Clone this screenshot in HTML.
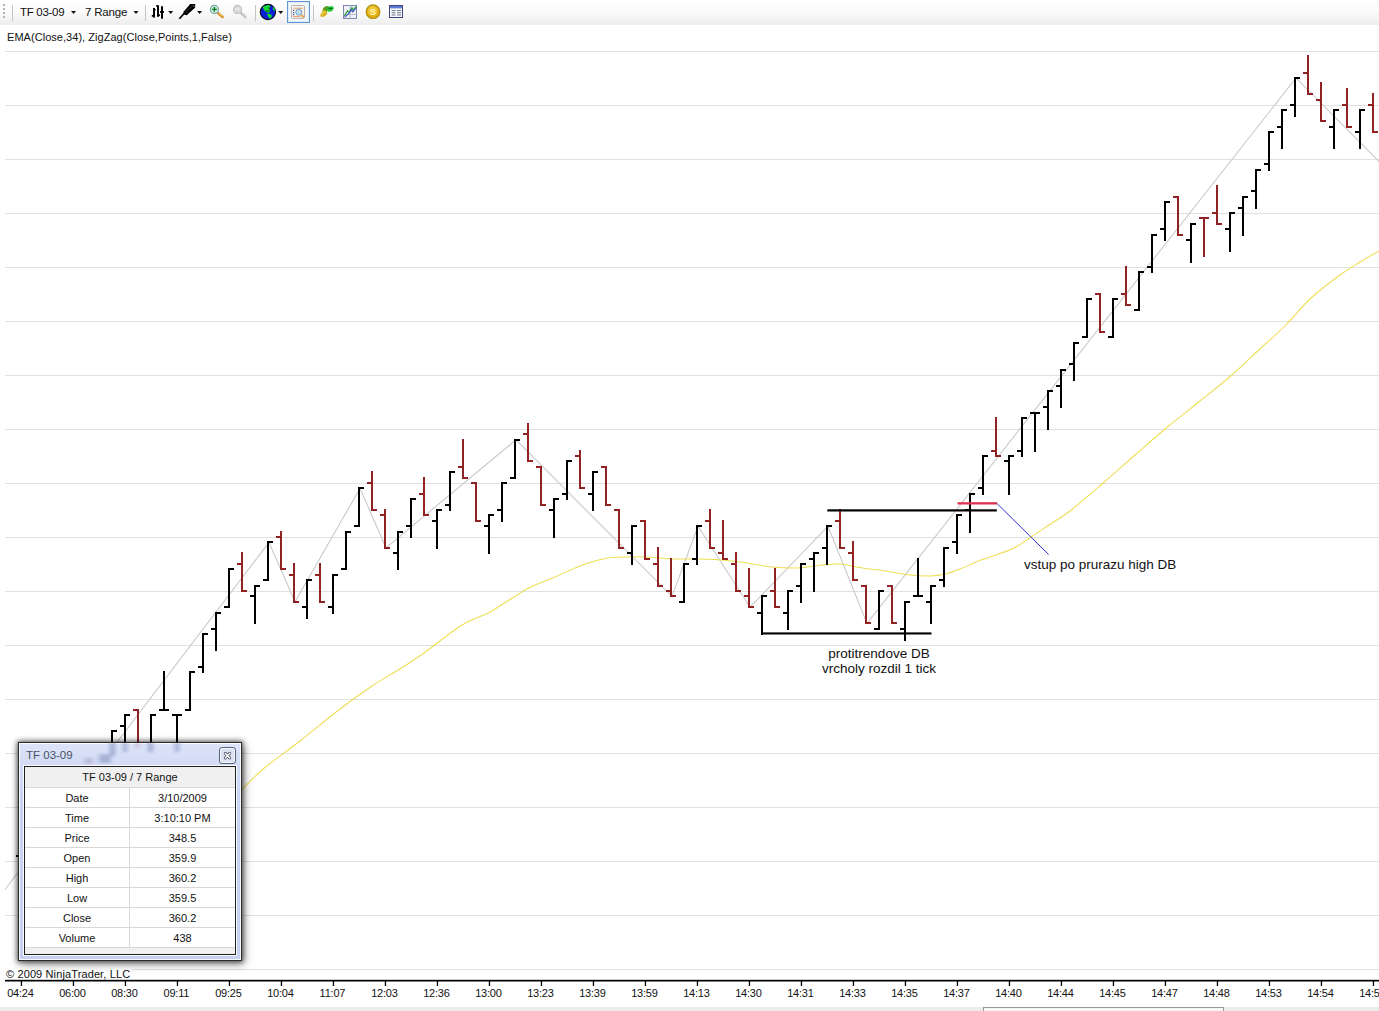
<!DOCTYPE html>
<html><head><meta charset="utf-8"><title>chart</title>
<style>
html,body{margin:0;padding:0;background:#fff;}
body{width:1379px;height:1011px;overflow:hidden;position:relative;font-family:"Liberation Sans",sans-serif;color:#000;}
#tb{position:absolute;left:0;top:0;width:1379px;height:25px;background:linear-gradient(#ffffff 0%,#fbfbfb 45%,#ededed 100%);}
#tb .t{position:absolute;top:4px;font-size:12px;line-height:15px;color:#111;white-space:nowrap;}
#ind{position:absolute;left:7px;top:30px;letter-spacing:.04px;font-size:11px;line-height:14px;white-space:nowrap;color:#111;}
#cp{position:absolute;left:5px;padding:0 2px 0 1px;background:#fff;top:967px;height:12px;overflow:visible;letter-spacing:.12px;font-size:11px;line-height:14px;white-space:nowrap;color:#111;}
.an{position:absolute;font-size:13.5px;line-height:15px;white-space:nowrap;text-align:center;color:#111;}
.ax{font-family:"Liberation Sans",sans-serif;font-size:11px;fill:#111;letter-spacing:-.2px;}
#chart{position:absolute;left:0;top:0;}
#strip{position:absolute;left:0;top:1007px;width:1379px;height:4px;background:#ebebeb;}
#strip div{position:absolute;left:983px;top:0;width:241px;height:6px;border:1px solid #9a9a9a;border-bottom:none;background:#f6f6f6;box-sizing:border-box;}
#box{position:absolute;left:18px;top:742px;width:224px;height:219px;box-sizing:border-box;border:1px solid #2b2b2b;background:linear-gradient(#dde4f9 0,#d1daf5 24px,#c9d4f2 60px,#c6d1f1 100%);box-shadow:inset 0 0 0 1px rgba(255,255,255,.85),0 0 5px 1px rgba(0,0,0,.6),2px 3px 9px rgba(0,0,0,.4);}
#box .ti{position:absolute;left:7px;top:4.5px;font-size:11.5px;line-height:14px;color:#4a5162;}
#box .cl{position:absolute;left:200px;top:4px;width:17px;height:17px;box-sizing:border-box;border:1px solid #5a637c;border-radius:3px;background:#dde3f4;box-shadow:inset 0 0 0 1px rgba(255,255,255,.75);}
#box .in{position:absolute;left:5px;top:23px;width:212px;height:189px;box-sizing:border-box;border:1px solid #1e1e1e;background:#f0f0f0;box-shadow:0 0 0 1px rgba(255,255,255,.9);}
#box .r{position:absolute;left:0;width:210px;height:20px;box-sizing:border-box;border-bottom:1px solid #d8d8d8;background:#fff;font-size:11px;line-height:20px;text-align:center;color:#111;white-space:nowrap;}
#box .r.h{height:21px;background:#f0f0f0;line-height:21px;}
#box .r .a{position:absolute;left:0;top:0;width:105px;height:19px;box-sizing:border-box;border-right:1px solid #d8d8d8;}
#box .r .b{position:absolute;left:105px;top:0;width:105px;height:19px;}
</style></head><body>
<svg id="chart" width="1379" height="1011" viewBox="0 0 1379 1011">
<rect x="5" y="51" width="1374" height="1" fill="#e1e1e1"/>
<rect x="5" y="105" width="1374" height="1" fill="#e1e1e1"/>
<rect x="5" y="159" width="1374" height="1" fill="#e1e1e1"/>
<rect x="5" y="213" width="1374" height="1" fill="#e1e1e1"/>
<rect x="5" y="267" width="1374" height="1" fill="#e1e1e1"/>
<rect x="5" y="321" width="1374" height="1" fill="#e1e1e1"/>
<rect x="5" y="375" width="1374" height="1" fill="#e1e1e1"/>
<rect x="5" y="429" width="1374" height="1" fill="#e1e1e1"/>
<rect x="5" y="483" width="1374" height="1" fill="#e1e1e1"/>
<rect x="5" y="537" width="1374" height="1" fill="#e1e1e1"/>
<rect x="5" y="591" width="1374" height="1" fill="#e1e1e1"/>
<rect x="5" y="645" width="1374" height="1" fill="#e1e1e1"/>
<rect x="5" y="699" width="1374" height="1" fill="#e1e1e1"/>
<rect x="5" y="753" width="1374" height="1" fill="#e1e1e1"/>
<rect x="5" y="807" width="1374" height="1" fill="#e1e1e1"/>
<rect x="5" y="861" width="1374" height="1" fill="#e1e1e1"/>
<rect x="5" y="915" width="1374" height="1" fill="#e1e1e1"/>
<rect x="5" y="969" width="1374" height="1" fill="#e1e1e1"/>
<polyline fill="none" stroke="#c8c8c8" stroke-width="1.05" points="5.0,889.5 269.0,542.4 295.0,601.8 360.0,488.4 386.0,547.8 516.0,439.8 672.0,596.4 698.0,526.2 750.0,607.2 828.0,526.2 867.0,623.4 1296.0,78.0 1380.0,162.5"/>
<path fill="none" stroke="#ecd93a" stroke-opacity=".88" stroke-width="1.05" d="M200.0,835.0 C205.3,829.2 221.7,810.8 232.0,800.0 C242.3,789.2 250.7,779.8 262.0,770.0 C273.3,760.2 287.0,751.2 300.0,741.0 C313.0,730.8 328.0,718.2 340.0,709.0 C352.0,699.8 362.0,692.7 372.0,686.0 C382.0,679.3 391.3,674.5 400.0,669.0 C408.7,663.5 413.7,660.3 424.0,653.0 C434.3,645.7 451.0,631.8 462.0,625.0 C473.0,618.2 479.2,618.0 490.0,612.0 C500.8,606.0 516.2,594.8 527.0,589.0 C537.8,583.2 546.2,580.8 555.0,577.0 C563.8,573.2 571.7,569.1 580.0,566.0 C588.3,562.9 597.5,560.0 605.0,558.5 C612.5,557.0 618.3,557.2 625.0,557.0 C631.7,556.8 636.7,556.7 645.0,557.0 C653.3,557.3 666.3,558.7 675.0,559.0 C683.7,559.3 689.2,558.8 697.0,559.0 C704.8,559.2 713.7,559.3 722.0,560.0 C730.3,560.7 738.7,561.8 747.0,563.0 C755.3,564.2 763.7,566.2 772.0,567.0 C780.3,567.8 788.7,568.3 797.0,568.0 C805.3,567.7 814.8,565.7 822.0,565.0 C829.2,564.3 833.7,563.6 840.0,564.0 C846.3,564.4 852.5,566.3 860.0,567.5 C867.5,568.7 876.7,569.8 885.0,571.0 C893.3,572.2 902.5,574.2 910.0,575.0 C917.5,575.8 924.2,576.2 930.0,576.0 C935.8,575.8 940.0,575.2 945.0,574.0 C950.0,572.8 954.0,571.3 960.0,569.0 C966.0,566.7 972.3,563.3 981.0,560.0 C989.7,556.7 1003.7,552.8 1012.0,549.0 C1020.3,545.2 1024.3,541.3 1031.0,537.0 C1037.7,532.7 1045.5,527.3 1052.0,523.0 C1058.5,518.7 1061.7,517.5 1070.0,511.0 C1078.3,504.5 1091.2,493.3 1102.0,484.0 C1112.8,474.7 1124.5,464.2 1135.0,455.0 C1145.5,445.8 1154.2,438.0 1165.0,429.0 C1175.8,420.0 1188.8,410.0 1200.0,401.0 C1211.2,392.0 1221.7,384.0 1232.0,375.0 C1242.3,366.0 1253.2,355.2 1262.0,347.0 C1270.8,338.8 1276.8,334.2 1285.0,326.0 C1293.2,317.8 1301.8,306.5 1311.0,298.0 C1320.2,289.5 1331.8,281.0 1340.0,275.0 C1348.2,269.0 1353.5,266.0 1360.0,262.0 C1366.5,258.0 1375.8,252.8 1379.0,251.0"/>
<rect x="20" y="817" width="2" height="40" fill="#000000"/>
<rect x="16" y="855" width="5" height="2" fill="#000000"/>
<rect x="21" y="817" width="5" height="2" fill="#000000"/>
<rect x="111" y="730" width="2" height="40" fill="#000000"/>
<rect x="107" y="768" width="5" height="2" fill="#000000"/>
<rect x="112" y="730" width="5" height="2" fill="#000000"/>
<rect x="124" y="714" width="2" height="40" fill="#000000"/>
<rect x="120" y="725" width="5" height="2" fill="#000000"/>
<rect x="125" y="714" width="5" height="2" fill="#000000"/>
<rect x="137" y="709" width="2" height="40" fill="#8f2323"/>
<rect x="133" y="709" width="5" height="2" fill="#8f2323"/>
<rect x="138" y="747" width="5" height="2" fill="#8f2323"/>
<rect x="150" y="714" width="2" height="40" fill="#000000"/>
<rect x="146" y="752" width="5" height="2" fill="#000000"/>
<rect x="151" y="714" width="5" height="2" fill="#000000"/>
<rect x="163" y="671" width="2" height="40" fill="#000000"/>
<rect x="159" y="709" width="5" height="2" fill="#000000"/>
<rect x="164" y="709" width="5" height="2" fill="#000000"/>
<rect x="176" y="714" width="2" height="40" fill="#000000"/>
<rect x="172" y="714" width="5" height="2" fill="#000000"/>
<rect x="177" y="714" width="5" height="2" fill="#000000"/>
<rect x="189" y="671" width="2" height="40" fill="#000000"/>
<rect x="185" y="709" width="5" height="2" fill="#000000"/>
<rect x="190" y="671" width="5" height="2" fill="#000000"/>
<rect x="202" y="633" width="2" height="40" fill="#000000"/>
<rect x="198" y="666" width="5" height="2" fill="#000000"/>
<rect x="203" y="633" width="5" height="2" fill="#000000"/>
<rect x="215" y="612" width="2" height="39" fill="#000000"/>
<rect x="211" y="628" width="5" height="2" fill="#000000"/>
<rect x="216" y="612" width="5" height="2" fill="#000000"/>
<rect x="228" y="568" width="2" height="40" fill="#000000"/>
<rect x="224" y="606" width="5" height="2" fill="#000000"/>
<rect x="229" y="568" width="5" height="2" fill="#000000"/>
<rect x="241" y="552" width="2" height="40" fill="#8f2323"/>
<rect x="237" y="563" width="5" height="2" fill="#8f2323"/>
<rect x="242" y="590" width="5" height="2" fill="#8f2323"/>
<rect x="254" y="585" width="2" height="39" fill="#000000"/>
<rect x="250" y="595" width="5" height="2" fill="#000000"/>
<rect x="255" y="585" width="5" height="2" fill="#000000"/>
<rect x="267" y="541" width="2" height="40" fill="#000000"/>
<rect x="263" y="579" width="5" height="2" fill="#000000"/>
<rect x="268" y="541" width="5" height="2" fill="#000000"/>
<rect x="280" y="531" width="2" height="39" fill="#8f2323"/>
<rect x="276" y="536" width="5" height="2" fill="#8f2323"/>
<rect x="281" y="568" width="5" height="2" fill="#8f2323"/>
<rect x="293" y="563" width="2" height="40" fill="#8f2323"/>
<rect x="289" y="574" width="5" height="2" fill="#8f2323"/>
<rect x="294" y="601" width="5" height="2" fill="#8f2323"/>
<rect x="306" y="579" width="2" height="40" fill="#000000"/>
<rect x="302" y="606" width="5" height="2" fill="#000000"/>
<rect x="307" y="579" width="5" height="2" fill="#000000"/>
<rect x="319" y="563" width="2" height="40" fill="#8f2323"/>
<rect x="315" y="574" width="5" height="2" fill="#8f2323"/>
<rect x="320" y="601" width="5" height="2" fill="#8f2323"/>
<rect x="332" y="574" width="2" height="40" fill="#000000"/>
<rect x="328" y="606" width="5" height="2" fill="#000000"/>
<rect x="333" y="574" width="5" height="2" fill="#000000"/>
<rect x="345" y="531" width="2" height="39" fill="#000000"/>
<rect x="341" y="568" width="5" height="2" fill="#000000"/>
<rect x="346" y="531" width="5" height="2" fill="#000000"/>
<rect x="358" y="487" width="2" height="40" fill="#000000"/>
<rect x="354" y="525" width="5" height="2" fill="#000000"/>
<rect x="359" y="487" width="5" height="2" fill="#000000"/>
<rect x="371" y="471" width="2" height="40" fill="#8f2323"/>
<rect x="367" y="482" width="5" height="2" fill="#8f2323"/>
<rect x="372" y="509" width="5" height="2" fill="#8f2323"/>
<rect x="384" y="509" width="2" height="40" fill="#8f2323"/>
<rect x="380" y="514" width="5" height="2" fill="#8f2323"/>
<rect x="385" y="547" width="5" height="2" fill="#8f2323"/>
<rect x="397" y="531" width="2" height="39" fill="#000000"/>
<rect x="393" y="552" width="5" height="2" fill="#000000"/>
<rect x="398" y="531" width="5" height="2" fill="#000000"/>
<rect x="410" y="498" width="2" height="40" fill="#000000"/>
<rect x="406" y="525" width="5" height="2" fill="#000000"/>
<rect x="411" y="498" width="5" height="2" fill="#000000"/>
<rect x="423" y="477" width="2" height="39" fill="#8f2323"/>
<rect x="419" y="493" width="5" height="2" fill="#8f2323"/>
<rect x="424" y="514" width="5" height="2" fill="#8f2323"/>
<rect x="436" y="509" width="2" height="40" fill="#000000"/>
<rect x="432" y="520" width="5" height="2" fill="#000000"/>
<rect x="437" y="509" width="5" height="2" fill="#000000"/>
<rect x="449" y="471" width="2" height="40" fill="#000000"/>
<rect x="445" y="504" width="5" height="2" fill="#000000"/>
<rect x="450" y="471" width="5" height="2" fill="#000000"/>
<rect x="462" y="439" width="2" height="40" fill="#8f2323"/>
<rect x="458" y="466" width="5" height="2" fill="#8f2323"/>
<rect x="463" y="477" width="5" height="2" fill="#8f2323"/>
<rect x="475" y="482" width="2" height="40" fill="#8f2323"/>
<rect x="471" y="482" width="5" height="2" fill="#8f2323"/>
<rect x="476" y="520" width="5" height="2" fill="#8f2323"/>
<rect x="488" y="514" width="2" height="40" fill="#000000"/>
<rect x="484" y="525" width="5" height="2" fill="#000000"/>
<rect x="489" y="514" width="5" height="2" fill="#000000"/>
<rect x="501" y="482" width="2" height="40" fill="#000000"/>
<rect x="497" y="509" width="5" height="2" fill="#000000"/>
<rect x="502" y="482" width="5" height="2" fill="#000000"/>
<rect x="514" y="439" width="2" height="40" fill="#000000"/>
<rect x="510" y="477" width="5" height="2" fill="#000000"/>
<rect x="515" y="439" width="5" height="2" fill="#000000"/>
<rect x="527" y="423" width="2" height="39" fill="#8f2323"/>
<rect x="523" y="433" width="5" height="2" fill="#8f2323"/>
<rect x="528" y="460" width="5" height="2" fill="#8f2323"/>
<rect x="540" y="466" width="2" height="40" fill="#8f2323"/>
<rect x="536" y="466" width="5" height="2" fill="#8f2323"/>
<rect x="541" y="504" width="5" height="2" fill="#8f2323"/>
<rect x="553" y="498" width="2" height="40" fill="#000000"/>
<rect x="549" y="509" width="5" height="2" fill="#000000"/>
<rect x="554" y="498" width="5" height="2" fill="#000000"/>
<rect x="566" y="460" width="2" height="40" fill="#000000"/>
<rect x="562" y="493" width="5" height="2" fill="#000000"/>
<rect x="567" y="460" width="5" height="2" fill="#000000"/>
<rect x="579" y="450" width="2" height="39" fill="#8f2323"/>
<rect x="575" y="455" width="5" height="2" fill="#8f2323"/>
<rect x="580" y="487" width="5" height="2" fill="#8f2323"/>
<rect x="592" y="471" width="2" height="40" fill="#000000"/>
<rect x="588" y="493" width="5" height="2" fill="#000000"/>
<rect x="593" y="471" width="5" height="2" fill="#000000"/>
<rect x="605" y="466" width="2" height="40" fill="#8f2323"/>
<rect x="601" y="466" width="5" height="2" fill="#8f2323"/>
<rect x="606" y="504" width="5" height="2" fill="#8f2323"/>
<rect x="618" y="509" width="2" height="40" fill="#8f2323"/>
<rect x="614" y="509" width="5" height="2" fill="#8f2323"/>
<rect x="619" y="547" width="5" height="2" fill="#8f2323"/>
<rect x="631" y="525" width="2" height="40" fill="#000000"/>
<rect x="627" y="552" width="5" height="2" fill="#000000"/>
<rect x="632" y="525" width="5" height="2" fill="#000000"/>
<rect x="644" y="520" width="2" height="40" fill="#8f2323"/>
<rect x="640" y="520" width="5" height="2" fill="#8f2323"/>
<rect x="645" y="558" width="5" height="2" fill="#8f2323"/>
<rect x="657" y="547" width="2" height="40" fill="#8f2323"/>
<rect x="653" y="563" width="5" height="2" fill="#8f2323"/>
<rect x="658" y="585" width="5" height="2" fill="#8f2323"/>
<rect x="670" y="558" width="2" height="39" fill="#8f2323"/>
<rect x="666" y="590" width="5" height="2" fill="#8f2323"/>
<rect x="671" y="595" width="5" height="2" fill="#8f2323"/>
<rect x="683" y="563" width="2" height="40" fill="#000000"/>
<rect x="679" y="601" width="5" height="2" fill="#000000"/>
<rect x="684" y="563" width="5" height="2" fill="#000000"/>
<rect x="696" y="525" width="2" height="40" fill="#000000"/>
<rect x="692" y="558" width="5" height="2" fill="#000000"/>
<rect x="697" y="525" width="5" height="2" fill="#000000"/>
<rect x="709" y="509" width="2" height="40" fill="#8f2323"/>
<rect x="705" y="520" width="5" height="2" fill="#8f2323"/>
<rect x="710" y="547" width="5" height="2" fill="#8f2323"/>
<rect x="722" y="520" width="2" height="40" fill="#8f2323"/>
<rect x="718" y="552" width="5" height="2" fill="#8f2323"/>
<rect x="723" y="558" width="5" height="2" fill="#8f2323"/>
<rect x="735" y="552" width="2" height="40" fill="#8f2323"/>
<rect x="731" y="563" width="5" height="2" fill="#8f2323"/>
<rect x="736" y="590" width="5" height="2" fill="#8f2323"/>
<rect x="748" y="568" width="2" height="40" fill="#8f2323"/>
<rect x="744" y="595" width="5" height="2" fill="#8f2323"/>
<rect x="749" y="606" width="5" height="2" fill="#8f2323"/>
<rect x="761" y="595" width="2" height="40" fill="#000000"/>
<rect x="757" y="612" width="5" height="2" fill="#000000"/>
<rect x="762" y="595" width="5" height="2" fill="#000000"/>
<rect x="774" y="568" width="2" height="40" fill="#8f2323"/>
<rect x="770" y="590" width="5" height="2" fill="#8f2323"/>
<rect x="775" y="606" width="5" height="2" fill="#8f2323"/>
<rect x="787" y="590" width="2" height="40" fill="#000000"/>
<rect x="783" y="612" width="5" height="2" fill="#000000"/>
<rect x="788" y="590" width="5" height="2" fill="#000000"/>
<rect x="800" y="563" width="2" height="40" fill="#000000"/>
<rect x="796" y="585" width="5" height="2" fill="#000000"/>
<rect x="801" y="563" width="5" height="2" fill="#000000"/>
<rect x="813" y="552" width="2" height="40" fill="#000000"/>
<rect x="809" y="558" width="5" height="2" fill="#000000"/>
<rect x="814" y="552" width="5" height="2" fill="#000000"/>
<rect x="826" y="525" width="2" height="40" fill="#000000"/>
<rect x="822" y="547" width="5" height="2" fill="#000000"/>
<rect x="827" y="525" width="5" height="2" fill="#000000"/>
<rect x="839" y="509" width="2" height="40" fill="#8f2323"/>
<rect x="835" y="520" width="5" height="2" fill="#8f2323"/>
<rect x="840" y="547" width="5" height="2" fill="#8f2323"/>
<rect x="852" y="541" width="2" height="40" fill="#8f2323"/>
<rect x="848" y="552" width="5" height="2" fill="#8f2323"/>
<rect x="853" y="579" width="5" height="2" fill="#8f2323"/>
<rect x="865" y="585" width="2" height="39" fill="#8f2323"/>
<rect x="861" y="585" width="5" height="2" fill="#8f2323"/>
<rect x="866" y="622" width="5" height="2" fill="#8f2323"/>
<rect x="878" y="590" width="2" height="40" fill="#000000"/>
<rect x="874" y="628" width="5" height="2" fill="#000000"/>
<rect x="879" y="590" width="5" height="2" fill="#000000"/>
<rect x="891" y="585" width="2" height="39" fill="#8f2323"/>
<rect x="887" y="585" width="5" height="2" fill="#8f2323"/>
<rect x="892" y="622" width="5" height="2" fill="#8f2323"/>
<rect x="904" y="601" width="2" height="40" fill="#000000"/>
<rect x="900" y="628" width="5" height="2" fill="#000000"/>
<rect x="905" y="601" width="5" height="2" fill="#000000"/>
<rect x="917" y="558" width="2" height="39" fill="#000000"/>
<rect x="913" y="595" width="5" height="2" fill="#000000"/>
<rect x="918" y="595" width="5" height="2" fill="#000000"/>
<rect x="930" y="585" width="2" height="39" fill="#000000"/>
<rect x="926" y="601" width="5" height="2" fill="#000000"/>
<rect x="931" y="585" width="5" height="2" fill="#000000"/>
<rect x="943" y="547" width="2" height="40" fill="#000000"/>
<rect x="939" y="579" width="5" height="2" fill="#000000"/>
<rect x="944" y="547" width="5" height="2" fill="#000000"/>
<rect x="956" y="514" width="2" height="40" fill="#000000"/>
<rect x="952" y="541" width="5" height="2" fill="#000000"/>
<rect x="957" y="514" width="5" height="2" fill="#000000"/>
<rect x="969" y="493" width="2" height="40" fill="#000000"/>
<rect x="965" y="509" width="5" height="2" fill="#000000"/>
<rect x="970" y="493" width="5" height="2" fill="#000000"/>
<rect x="982" y="455" width="2" height="40" fill="#000000"/>
<rect x="978" y="487" width="5" height="2" fill="#000000"/>
<rect x="983" y="455" width="5" height="2" fill="#000000"/>
<rect x="995" y="417" width="2" height="40" fill="#8f2323"/>
<rect x="991" y="450" width="5" height="2" fill="#8f2323"/>
<rect x="996" y="455" width="5" height="2" fill="#8f2323"/>
<rect x="1008" y="455" width="2" height="40" fill="#000000"/>
<rect x="1004" y="460" width="5" height="2" fill="#000000"/>
<rect x="1009" y="455" width="5" height="2" fill="#000000"/>
<rect x="1021" y="417" width="2" height="40" fill="#000000"/>
<rect x="1017" y="450" width="5" height="2" fill="#000000"/>
<rect x="1022" y="417" width="5" height="2" fill="#000000"/>
<rect x="1034" y="412" width="2" height="40" fill="#000000"/>
<rect x="1030" y="412" width="5" height="2" fill="#000000"/>
<rect x="1035" y="412" width="5" height="2" fill="#000000"/>
<rect x="1047" y="390" width="2" height="40" fill="#000000"/>
<rect x="1043" y="406" width="5" height="2" fill="#000000"/>
<rect x="1048" y="390" width="5" height="2" fill="#000000"/>
<rect x="1060" y="369" width="2" height="39" fill="#000000"/>
<rect x="1056" y="385" width="5" height="2" fill="#000000"/>
<rect x="1061" y="369" width="5" height="2" fill="#000000"/>
<rect x="1073" y="342" width="2" height="39" fill="#000000"/>
<rect x="1069" y="363" width="5" height="2" fill="#000000"/>
<rect x="1074" y="342" width="5" height="2" fill="#000000"/>
<rect x="1086" y="298" width="2" height="40" fill="#000000"/>
<rect x="1082" y="336" width="5" height="2" fill="#000000"/>
<rect x="1087" y="298" width="5" height="2" fill="#000000"/>
<rect x="1099" y="293" width="2" height="40" fill="#8f2323"/>
<rect x="1095" y="293" width="5" height="2" fill="#8f2323"/>
<rect x="1100" y="331" width="5" height="2" fill="#8f2323"/>
<rect x="1112" y="298" width="2" height="40" fill="#000000"/>
<rect x="1108" y="336" width="5" height="2" fill="#000000"/>
<rect x="1113" y="298" width="5" height="2" fill="#000000"/>
<rect x="1125" y="266" width="2" height="40" fill="#8f2323"/>
<rect x="1121" y="293" width="5" height="2" fill="#8f2323"/>
<rect x="1126" y="304" width="5" height="2" fill="#8f2323"/>
<rect x="1138" y="271" width="2" height="40" fill="#000000"/>
<rect x="1134" y="309" width="5" height="2" fill="#000000"/>
<rect x="1139" y="271" width="5" height="2" fill="#000000"/>
<rect x="1151" y="234" width="2" height="39" fill="#000000"/>
<rect x="1147" y="266" width="5" height="2" fill="#000000"/>
<rect x="1152" y="234" width="5" height="2" fill="#000000"/>
<rect x="1164" y="201" width="2" height="40" fill="#000000"/>
<rect x="1160" y="228" width="5" height="2" fill="#000000"/>
<rect x="1165" y="201" width="5" height="2" fill="#000000"/>
<rect x="1177" y="196" width="2" height="40" fill="#8f2323"/>
<rect x="1173" y="196" width="5" height="2" fill="#8f2323"/>
<rect x="1178" y="234" width="5" height="2" fill="#8f2323"/>
<rect x="1190" y="223" width="2" height="40" fill="#000000"/>
<rect x="1186" y="239" width="5" height="2" fill="#000000"/>
<rect x="1191" y="223" width="5" height="2" fill="#000000"/>
<rect x="1203" y="217" width="2" height="40" fill="#8f2323"/>
<rect x="1199" y="217" width="5" height="2" fill="#8f2323"/>
<rect x="1204" y="217" width="5" height="2" fill="#8f2323"/>
<rect x="1216" y="185" width="2" height="40" fill="#8f2323"/>
<rect x="1212" y="212" width="5" height="2" fill="#8f2323"/>
<rect x="1217" y="223" width="5" height="2" fill="#8f2323"/>
<rect x="1229" y="212" width="2" height="40" fill="#000000"/>
<rect x="1225" y="228" width="5" height="2" fill="#000000"/>
<rect x="1230" y="212" width="5" height="2" fill="#000000"/>
<rect x="1242" y="196" width="2" height="40" fill="#000000"/>
<rect x="1238" y="207" width="5" height="2" fill="#000000"/>
<rect x="1243" y="196" width="5" height="2" fill="#000000"/>
<rect x="1255" y="169" width="2" height="40" fill="#000000"/>
<rect x="1251" y="190" width="5" height="2" fill="#000000"/>
<rect x="1256" y="169" width="5" height="2" fill="#000000"/>
<rect x="1268" y="131" width="2" height="40" fill="#000000"/>
<rect x="1264" y="163" width="5" height="2" fill="#000000"/>
<rect x="1269" y="131" width="5" height="2" fill="#000000"/>
<rect x="1281" y="109" width="2" height="40" fill="#000000"/>
<rect x="1277" y="126" width="5" height="2" fill="#000000"/>
<rect x="1282" y="109" width="5" height="2" fill="#000000"/>
<rect x="1294" y="77" width="2" height="40" fill="#000000"/>
<rect x="1290" y="104" width="5" height="2" fill="#000000"/>
<rect x="1295" y="77" width="5" height="2" fill="#000000"/>
<rect x="1307" y="55" width="2" height="40" fill="#8f2323"/>
<rect x="1303" y="72" width="5" height="2" fill="#8f2323"/>
<rect x="1308" y="93" width="5" height="2" fill="#8f2323"/>
<rect x="1320" y="82" width="2" height="40" fill="#8f2323"/>
<rect x="1316" y="99" width="5" height="2" fill="#8f2323"/>
<rect x="1321" y="120" width="5" height="2" fill="#8f2323"/>
<rect x="1333" y="109" width="2" height="40" fill="#000000"/>
<rect x="1329" y="126" width="5" height="2" fill="#000000"/>
<rect x="1334" y="109" width="5" height="2" fill="#000000"/>
<rect x="1346" y="88" width="2" height="40" fill="#8f2323"/>
<rect x="1342" y="104" width="5" height="2" fill="#8f2323"/>
<rect x="1347" y="126" width="5" height="2" fill="#8f2323"/>
<rect x="1359" y="109" width="2" height="40" fill="#000000"/>
<rect x="1355" y="131" width="5" height="2" fill="#000000"/>
<rect x="1360" y="109" width="5" height="2" fill="#000000"/>
<rect x="1372" y="93" width="2" height="40" fill="#8f2323"/>
<rect x="1368" y="104" width="5" height="2" fill="#8f2323"/>
<rect x="1373" y="131" width="5" height="2" fill="#8f2323"/>
<rect x="827.3" y="509.3" width="169.5" height="2.2" fill="#000"/>
<rect x="762" y="632.4" width="169.5" height="2.1" fill="#000"/>
<rect x="957.5" y="502.2" width="39.5" height="2.3" fill="#e0304f"/>
<line x1="996.7" y1="503.2" x2="1048.6" y2="554.5" stroke="#3434c8" stroke-width="1"/>
<rect x="5" y="979.8" width="1374" height="1.7" fill="#000"/>
<rect x="20.8" y="980" width="1.3" height="6" fill="#000"/>
<text x="20.4" y="997" text-anchor="middle" class="ax">04:24</text>
<rect x="72.8" y="980" width="1.3" height="6" fill="#000"/>
<text x="72.4" y="997" text-anchor="middle" class="ax">06:00</text>
<rect x="124.8" y="980" width="1.3" height="6" fill="#000"/>
<text x="124.4" y="997" text-anchor="middle" class="ax">08:30</text>
<rect x="176.8" y="980" width="1.3" height="6" fill="#000"/>
<text x="176.4" y="997" text-anchor="middle" class="ax">09:11</text>
<rect x="228.8" y="980" width="1.3" height="6" fill="#000"/>
<text x="228.4" y="997" text-anchor="middle" class="ax">09:25</text>
<rect x="280.8" y="980" width="1.3" height="6" fill="#000"/>
<text x="280.4" y="997" text-anchor="middle" class="ax">10:04</text>
<rect x="332.8" y="980" width="1.3" height="6" fill="#000"/>
<text x="332.4" y="997" text-anchor="middle" class="ax">11:07</text>
<rect x="384.8" y="980" width="1.3" height="6" fill="#000"/>
<text x="384.4" y="997" text-anchor="middle" class="ax">12:03</text>
<rect x="436.8" y="980" width="1.3" height="6" fill="#000"/>
<text x="436.4" y="997" text-anchor="middle" class="ax">12:36</text>
<rect x="488.8" y="980" width="1.3" height="6" fill="#000"/>
<text x="488.4" y="997" text-anchor="middle" class="ax">13:00</text>
<rect x="540.8" y="980" width="1.3" height="6" fill="#000"/>
<text x="540.4" y="997" text-anchor="middle" class="ax">13:23</text>
<rect x="592.8" y="980" width="1.3" height="6" fill="#000"/>
<text x="592.4" y="997" text-anchor="middle" class="ax">13:39</text>
<rect x="644.8" y="980" width="1.3" height="6" fill="#000"/>
<text x="644.4" y="997" text-anchor="middle" class="ax">13:59</text>
<rect x="696.8" y="980" width="1.3" height="6" fill="#000"/>
<text x="696.4" y="997" text-anchor="middle" class="ax">14:13</text>
<rect x="748.8" y="980" width="1.3" height="6" fill="#000"/>
<text x="748.4" y="997" text-anchor="middle" class="ax">14:30</text>
<rect x="800.8" y="980" width="1.3" height="6" fill="#000"/>
<text x="800.4" y="997" text-anchor="middle" class="ax">14:31</text>
<rect x="852.8" y="980" width="1.3" height="6" fill="#000"/>
<text x="852.4" y="997" text-anchor="middle" class="ax">14:33</text>
<rect x="904.8" y="980" width="1.3" height="6" fill="#000"/>
<text x="904.4" y="997" text-anchor="middle" class="ax">14:35</text>
<rect x="956.8" y="980" width="1.3" height="6" fill="#000"/>
<text x="956.4" y="997" text-anchor="middle" class="ax">14:37</text>
<rect x="1008.8" y="980" width="1.3" height="6" fill="#000"/>
<text x="1008.4" y="997" text-anchor="middle" class="ax">14:40</text>
<rect x="1060.8" y="980" width="1.3" height="6" fill="#000"/>
<text x="1060.4" y="997" text-anchor="middle" class="ax">14:44</text>
<rect x="1112.8" y="980" width="1.3" height="6" fill="#000"/>
<text x="1112.4" y="997" text-anchor="middle" class="ax">14:45</text>
<rect x="1164.8" y="980" width="1.3" height="6" fill="#000"/>
<text x="1164.4" y="997" text-anchor="middle" class="ax">14:47</text>
<rect x="1216.8" y="980" width="1.3" height="6" fill="#000"/>
<text x="1216.4" y="997" text-anchor="middle" class="ax">14:48</text>
<rect x="1268.8" y="980" width="1.3" height="6" fill="#000"/>
<text x="1268.4" y="997" text-anchor="middle" class="ax">14:53</text>
<rect x="1320.8" y="980" width="1.3" height="6" fill="#000"/>
<text x="1320.4" y="997" text-anchor="middle" class="ax">14:54</text>
<rect x="1372.8" y="980" width="1.3" height="6" fill="#000"/>
<text x="1372.4" y="997" text-anchor="middle" class="ax">14:55</text>
</svg>
<div id="tb">
<span class="t" style="left:20px;font-size:11.5px;letter-spacing:-.3px;top:4.5px">TF 03-09</span>
<span class="t" style="left:85px;font-size:11.5px;letter-spacing:-.2px;top:4.5px">7 Range</span>
<svg style="position:absolute;left:0;top:0" width="460" height="25" viewBox="0 0 460 25">
<g fill="#b4b4b4"><rect x="3" y="4" width="2" height="2"/><rect x="3" y="8" width="2" height="2"/><rect x="3" y="12" width="2" height="2"/><rect x="3" y="16" width="2" height="2"/></g>
<g fill="#c4c4c4"><rect x="12" y="5" width="1" height="16"/><rect x="145" y="5" width="1" height="16"/><rect x="255" y="5" width="1" height="16"/><rect x="313" y="5" width="1" height="16"/></g>
<g fill="#111"><path d="M71 11h5l-2.5 3z"/><path d="M133.5 11h5l-2.5 3z"/><path d="M168.2 11h5l-2.5 3z"/><path d="M197.1 11h5l-2.5 3z"/><path d="M278.2 11h5l-2.5 3z"/></g>
<!-- bars icon -->
<g fill="#000"><rect x="153" y="8" width="2" height="9.6"/><rect x="151.8" y="15" width="2" height="1.8"/><rect x="154.5" y="9.2" width="1.2" height="1.3"/>
<rect x="157" y="5.2" width="2" height="11.6"/><rect x="156" y="5.2" width="1.5" height="1.4"/><rect x="158.5" y="14.4" width="1.5" height="1.7"/>
<rect x="161" y="6.3" width="2" height="12.4"/><rect x="160" y="11" width="4" height="1.8"/></g>
<!-- pen -->
<path d="M190.2 4.1h5v3.4l-8.4 7.8-3.2-.7-.3-2.6z" fill="#000"/>
<path d="M184 13.6l-4.6 5.2" stroke="#000" stroke-width="1.7"/>
<path d="M192.8 5.6l-7.4 6.6" stroke="#bbb" stroke-width=".5" stroke-dasharray=".7 .7"/>
<path d="M193.4 5.2l1 1.6" stroke="#aaa" stroke-width=".8"/>
<!-- zoom in -->
<line x1="218" y1="13.1" x2="222.6" y2="17" stroke="#d9962c" stroke-width="2.7" stroke-linecap="round"/>
<line x1="218.4" y1="12.9" x2="222.6" y2="16.4" stroke="#f1c66f" stroke-width=".9"/>
<circle cx="214.4" cy="9.4" r="4" fill="#cdeedd" stroke="#7aa6ac" stroke-width="1.2"/>
<path d="M212 9.4h4.8M214.4 7v4.8" stroke="#0c7c1e" stroke-width="1.4"/>
<!-- zoom out (disabled) -->
<line x1="241" y1="13.1" x2="245.4" y2="17" stroke="#c6c6c6" stroke-width="2.7" stroke-linecap="round"/>
<circle cx="237.5" cy="9.4" r="4" fill="#dadada" stroke="#c2c2c2" stroke-width="1.2"/>
<path d="M235 9.2h5" stroke="#ececec" stroke-width="1.4"/>
<!-- globe -->
<circle cx="267.9" cy="12" r="7.6" fill="#0a1fd8" stroke="#04061f" stroke-width="1.1"/>
<path d="M262.7 6.7l5.7-2 2.1 1.4-1.3 2.6.9 2.6-1.7 1.8-2.2-1.4-2.2-1.7zM267.1 13.5l4.3.9.4 2.1-1.7 2.2-1.3-1.3-1.3-2.2zM272.7 6.5l2.2 2.2-.4 3-1.4-2.1z" fill="#14dc2e"/>
<path d="M266.4 10.6l2.6.6M268.6 7.4l.9 1.8" stroke="#053a12" stroke-width=".9"/>
<!-- selected button -->
<rect x="287.5" y="1.5" width="22" height="21" fill="#f0f7fd" stroke="#5f93d4" stroke-width="1"/>
<rect x="288.5" y="2.5" width="20" height="19" fill="none" stroke="#dcecfa" stroke-width="1"/>
<rect x="291.5" y="5.5" width="13" height="12.8" rx="1" fill="#f4f2f0" stroke="#b9aeb0" stroke-width="1"/>
<path d="M293.3 8.3h9.5M293.3 16.5h7" stroke="#e2a774" stroke-width="1.1"/>
<path d="M293 10.4h1.2M293 12.6h1.2M293 14.6h1.2" stroke="#39508c" stroke-width="1.1"/>
<line x1="301.2" y1="14.6" x2="304" y2="17.6" stroke="#e7a64e" stroke-width="2"/>
<circle cx="298.8" cy="12.2" r="3" fill="#b9def2" stroke="#7f9fbe" stroke-width="1"/>
<!-- green/yellow icon -->
<path d="M322.4 9.6l2.4-3.2 3.4-.4 1 2.2-2.6 4.2-3 .4z" fill="#5a9a22"/>
<path d="M320.2 15.2l3.2-5.6 2.8 1.4 1.4 2.6-3 2.8-3.6.6z" fill="#d8b01c"/>
<path d="M321.6 15.4l2.4-3.6 1.8 1.2" fill="none" stroke="#f0d868" stroke-width=".9"/>
<path d="M327 8.2l1.6-1.8 4.6-.2.6 2.4-1.8 2.6-3.6.6-1.2-1.4z" fill="#1fc83a"/>
<path d="M328.6 8.4h3.6" stroke="#0c5c14" stroke-width="1.3"/>
<!-- chart icon -->
<rect x="343.5" y="5.5" width="13" height="13" fill="#eef1f8" stroke="#7d88ad" stroke-width="1"/>
<path d="M343.5 14.5h13M350 5.5v13" stroke="#b6bdd3" stroke-width="1"/>
<path d="M344.5 16l3-5 2 1.6 2.4-5 1.6 3 2.4-4" fill="none" stroke="#2c9d3c" stroke-width="1.3"/>
<path d="M344.5 17.4l4-3.4 2.6-4.2 1.6 2 3-3.6" fill="none" stroke="#3d55c4" stroke-width="1.1"/>
<!-- coin -->
<circle cx="373" cy="11.7" r="6.8" fill="#e2ae14" stroke="#b48c0c" stroke-width="1.2"/>
<circle cx="372.6" cy="10.8" r="4.8" fill="#efc534"/>
<text x="373" y="15.2" text-anchor="middle" font-family="Liberation Sans, sans-serif" font-size="9.5" font-weight="bold" fill="#fff4c0">S</text>
<!-- table icon -->
<rect x="389.5" y="5.5" width="13" height="12" fill="#fafbff" stroke="#39477e" stroke-width="1"/>
<rect x="390" y="6" width="12" height="2.4" fill="#5d78d6"/>
<path d="M391.6 10.6h4M397 10.6h4M391.6 12.8h4M397 12.8h4M391.6 15h4M397 15h4" stroke="#6b7285" stroke-width="1"/>
</svg>

</div>
<div id="ind">EMA(Close,34), ZigZag(Close,Points,1,False)</div>
<div id="cp">&copy; 2009 NinjaTrader, LLC</div>
<div class="an" style="left:799px;width:160px;top:646px;">protitrendove DB<br>vrcholy rozdil 1 tick</div>
<div class="an" style="left:1024px;top:557px;text-align:left;">vstup po prurazu high DB</div>
<div id="strip"><div></div></div>
<div id="box">
<svg style="position:absolute;left:0;top:0" width="222" height="23" viewBox="19 743 222 23"><defs><filter id="bl" x="-50%" y="-50%" width="200%" height="200%"><feGaussianBlur stdDeviation="2.2 1.6"/></filter></defs>
<g filter="url(#bl)" opacity=".42"><rect x="110" y="741" width="5" height="15" fill="#4f5f9e"/><rect x="99" y="754" width="12" height="9" fill="#6b78ad"/><rect x="84" y="758" width="9" height="6" fill="#a08ab8"/><rect x="123" y="741" width="4" height="11" fill="#4f5f9e"/><rect x="136" y="741" width="3" height="7" fill="#a06a8a"/><rect x="148" y="741" width="5" height="11" fill="#4f5f9e"/><rect x="175" y="741" width="4" height="11" fill="#4f5f9e"/></g></svg>
<div class="ti">TF 03-09</div>
<div class="cl"><svg width="15" height="15" viewBox="0 0 15 15" style="display:block"><path d="M5.3 5.4l4.4 4.6M9.7 5.4l-4.4 4.6" fill="none" stroke="#474e60" stroke-width="3" stroke-linecap="round"/><path d="M5.3 5.4l4.4 4.6M9.7 5.4l-4.4 4.6" fill="none" stroke="#fff" stroke-width="1.5" stroke-linecap="round"/></svg></div>
<div class="in">
<div class="r h" style="top:0">TF 03-09 / 7 Range</div>
<div class="r" style="top:21px"><span class="a">Date</span><span class="b">3/10/2009</span></div>
<div class="r" style="top:41px"><span class="a">Time</span><span class="b">3:10:10 PM</span></div>
<div class="r" style="top:61px"><span class="a">Price</span><span class="b">348.5</span></div>
<div class="r" style="top:81px"><span class="a">Open</span><span class="b">359.9</span></div>
<div class="r" style="top:101px"><span class="a">High</span><span class="b">360.2</span></div>
<div class="r" style="top:121px"><span class="a">Low</span><span class="b">359.5</span></div>
<div class="r" style="top:141px"><span class="a">Close</span><span class="b">360.2</span></div>
<div class="r" style="top:161px"><span class="a">Volume</span><span class="b">438</span></div>
</div>
</div>
</body></html>
